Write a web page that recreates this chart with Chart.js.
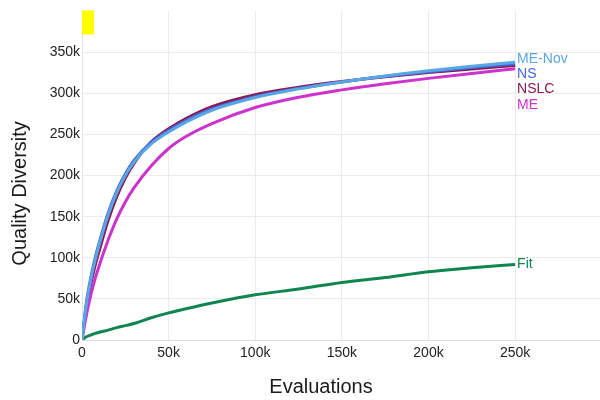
<!DOCTYPE html>
<html>
<head>
<meta charset="utf-8">
<script src="https://cdn.jsdelivr.net/npm/chart.js@4.4.1/dist/chart.umd.min.js"></script>
<style>
  html, body { margin: 0; padding: 0; background: #fff; }
  #wrap { width: 600px; height: 400px; }
</style>
</head>
<body>
<div id="wrap"><canvas id="qdChart"></canvas></div>
<script>
// evaluations (x) and quality diversity per method
const evals = [0, 2500, 5000, 7500, 10000, 15000, 20000, 25000, 30000, 40000, 50000, 60000, 75000, 100000, 125000, 150000, 175000, 200000, 225000, 250000];
const meNov = [0, 43000, 72500, 96500, 116500, 151500, 179000, 200000, 216500, 238500, 253000, 265000, 279500, 295000, 305500, 314000, 321300, 327500, 333000, 338000];
const ns    = [0, 45000, 75000, 99000, 119000, 154000, 181000, 202000, 218500, 240500, 255000, 267000, 281000, 296000, 306000, 314000, 320800, 326500, 331500, 336000];
const me    = [0, 30000, 54000, 74000, 91000, 121000, 147000, 168000, 185000, 212000, 233000, 247500, 263300, 282800, 295300, 304300, 311800, 318300, 324300, 330000];
const nslc  = [0, 40000, 67500, 90000, 109000, 145000, 174000, 197000, 215000, 241000, 257000, 269500, 284000, 298500, 307500, 314500, 320300, 325300, 329800, 334000];
const fit   = [0, 4000, 6000, 8000, 9500, 12000, 15000, 17500, 20000, 27000, 33000, 38000, 45000, 55000, 62000, 70000, 76000, 83000, 88000, 92000];

const xTicks = [0, 50000, 100000, 150000, 200000, 250000];
const yTicks = [0, 50000, 100000, 150000, 200000, 250000, 300000, 350000];

const series = [
  { name: 'ME-Nov', values: meNov, color: '#5aa6e2' },
  { name: 'NS',     values: ns,    color: '#4169e1' },
  { name: 'ME',     values: me,    color: '#cc33cc' },
  { name: 'NSLC',   values: nslc,  color: '#8b1a52' },
  { name: 'Fit',    values: fit,   color: '#108550' }
];

const kFmt = v => v === 0 ? '0' : (v / 1000) + 'k';

// end labels next to each line, pushed apart when crowded
const endLabels = {
  id: 'endLabels',
  afterDatasetsDraw(chart) {
    const { ctx, scales: { x, y } } = chart;
    const items = chart.data.datasets.map(ds => {
      const last = ds.data[ds.data.length - 1];
      return { text: ds.label, color: ds.borderColor, px: x.getPixelForValue(last.x), py: y.getPixelForValue(last.y) };
    }).sort((a, b) => a.py - b.py);
    let prev = -Infinity, group = [];
    const groups = [];
    items.forEach(it => {
      if (it.py < prev + 15.4) {
        it.ly = prev + 15.4;
        group.push(it);
      } else {
        it.ly = it.py;
        group = [it];
        groups.push(group);
      }
      prev = it.ly;
    });
    groups.forEach(g => { if (g.length > 1) g.forEach(it => it.ly -= 3.5); });
    ctx.save();
    ctx.font = '14px "Liberation Sans", Arial, sans-serif';
    ctx.textBaseline = 'middle';
    items.forEach(it => {
      ctx.fillStyle = it.color;
      ctx.fillText(it.text, it.px + 2, it.ly);
    });
    ctx.restore();
  }
};

// axis titles and the small yellow marker in the corner
const decor = {
  id: 'decor',
  afterDraw(chart) {
    const { ctx, chartArea: a } = chart;
    ctx.save();
    ctx.fillStyle = '#ffff00';
    ctx.fillRect(a.left, a.top, 12, 24);
    ctx.fillStyle = '#1a1a1a';
    ctx.font = '20px "Liberation Sans", Arial, sans-serif';
    ctx.textAlign = 'center';
    ctx.textBaseline = 'middle';
    ctx.fillText('Evaluations', a.left + 239, 387);
    ctx.translate(20, a.top + 183);
    ctx.rotate(-Math.PI / 2);
    ctx.fillText('Quality Diversity', 0, 0);
    ctx.restore();
  }
};

new Chart(document.querySelector('#qdChart'), {
  type: 'line',
  data: {
    datasets: series.map(s => ({
      label: s.name,
      data: evals.map((e, i) => ({ x: e, y: s.values[i] })),
      borderColor: s.color,
      backgroundColor: s.color,
      borderWidth: 3,
      pointRadius: 0,
      cubicInterpolationMode: 'monotone',
      fill: false
    }))
  },
  options: {
    responsive: true,
    maintainAspectRatio: false,
    animation: false,
    layout: { padding: { top: 10, right: 0, left: 0, bottom: 0 } },
    plugins: { legend: { display: false }, tooltip: { enabled: false } },
    scales: {
      x: {
        type: 'linear',
        min: 0,
        max: 299000,
        afterBuildTicks: s => { s.ticks = xTicks.map(v => ({ value: v })); },
        afterFit: s => { s.height = 60; },
        grid: { color: '#ebebeb', lineWidth: 1, drawTicks: false },
        border: { color: '#dcdcdc', width: 1 },
        ticks: {
          padding: 5,
          color: '#222',
          font: { family: '"Liberation Sans", Arial, sans-serif', size: 14 },
          maxRotation: 0,
          callback: v => kFmt(v)
        }
      },
      y: {
        type: 'linear',
        min: 0,
        max: 401000,
        afterBuildTicks: s => { s.ticks = yTicks.map(v => ({ value: v })); },
        afterFit: s => { s.width = 82; },
        grid: { color: '#ebebeb', lineWidth: 1, drawTicks: false },
        border: { color: '#e6e6e6', width: 1 },
        ticks: {
          padding: 2,
          color: '#222',
          font: { family: '"Liberation Sans", Arial, sans-serif', size: 14 },
          callback: v => kFmt(v)
        }
      }
    }
  },
  plugins: [endLabels, decor]
});
</script>
</body>
</html>
